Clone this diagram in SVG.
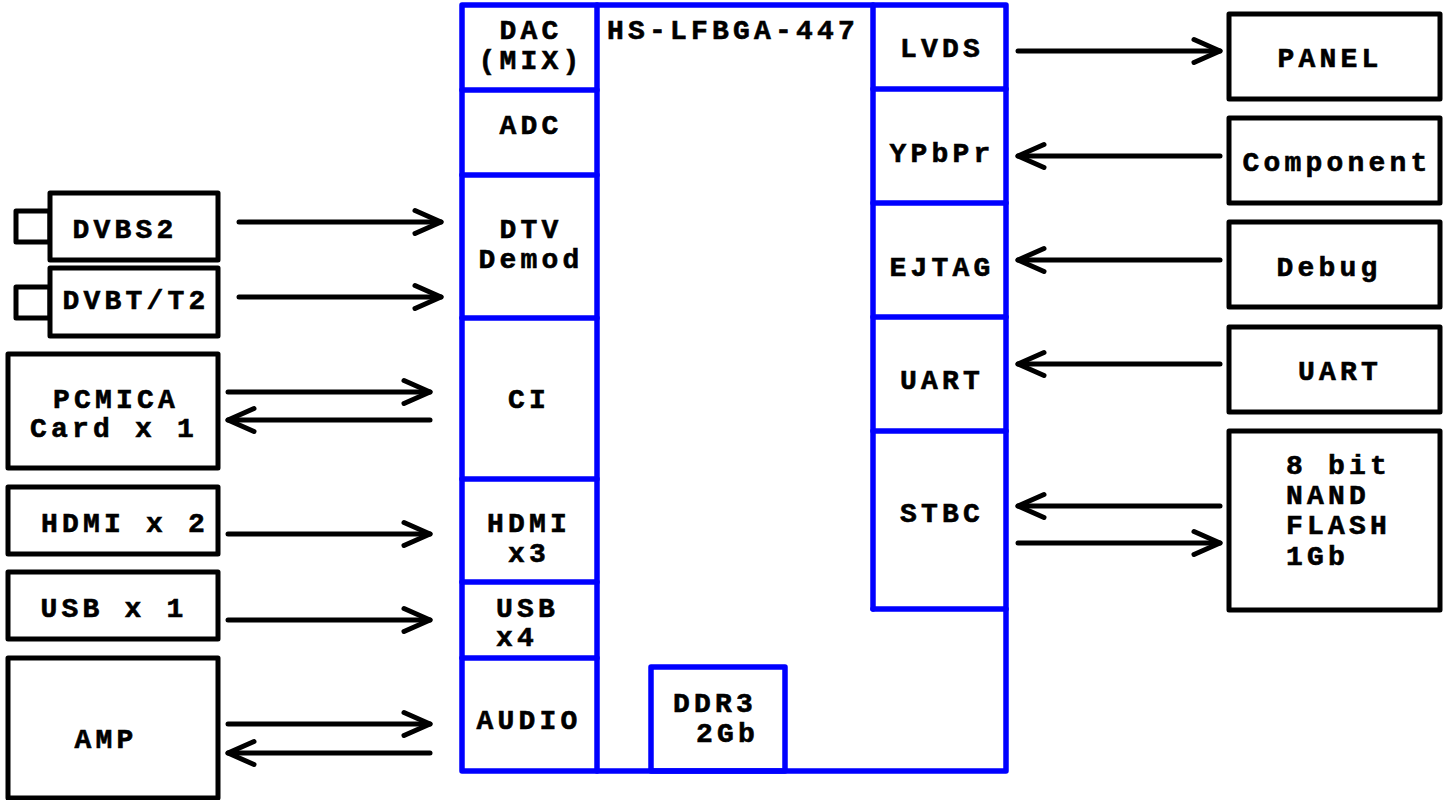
<svg xmlns="http://www.w3.org/2000/svg" width="1452" height="800" viewBox="0 0 1452 800">
<style>
  .box{fill:#fff;stroke:#000;stroke-width:5;stroke-linejoin:round}
  .chip{fill:none;stroke:#0000ff;stroke-width:5.5;stroke-linecap:round;stroke-linejoin:round}
  .t{font-family:"Liberation Mono","Courier New",monospace;font-weight:bold;font-size:28px;letter-spacing:4.2px;fill:#000;stroke:#000;stroke-width:0.6px}
  .m{text-anchor:middle}
  .conn line{stroke:#000;stroke-width:5;stroke-linecap:round}
</style>
<defs>
  <marker id="arr" viewBox="-30 -15 34 30" refX="0" refY="0" markerWidth="34" markerHeight="30" orient="auto" markerUnits="userSpaceOnUse" overflow="visible">
    <path d="M-26,-11.5 L0,0 L-26,11.5" fill="none" stroke="#000" stroke-width="5" stroke-linecap="round" stroke-linejoin="round"/>
  </marker>
</defs>
<rect width="1452" height="800" fill="#fff"/>

<g id="chip">
  <rect class="chip" x="462" y="5" width="544" height="766"/>
  <line class="chip" x1="597" y1="5" x2="597" y2="771"/>
  <line class="chip" x1="873" y1="5" x2="873" y2="609"/>
  <line class="chip" x1="873" y1="609" x2="1006" y2="609"/>
  <line class="chip" x1="462" y1="90" x2="597" y2="90"/>
  <line class="chip" x1="462" y1="175" x2="597" y2="175"/>
  <line class="chip" x1="462" y1="318" x2="597" y2="318"/>
  <line class="chip" x1="462" y1="479" x2="597" y2="479"/>
  <line class="chip" x1="462" y1="582" x2="597" y2="582"/>
  <line class="chip" x1="462" y1="658" x2="597" y2="658"/>
  <line class="chip" x1="873" y1="89" x2="1006" y2="89"/>
  <line class="chip" x1="873" y1="203" x2="1006" y2="203"/>
  <line class="chip" x1="873" y1="317" x2="1006" y2="317"/>
  <line class="chip" x1="873" y1="431" x2="1006" y2="431"/>
  <text class="t" x="607" y="39" letter-spacing="2.6">HS-LFBGA-447</text>
  <text class="t m" x="531" y="39">DAC</text>
  <text class="t m" x="531" y="69">(MIX)</text>
  <text class="t m" x="531" y="134">ADC</text>
  <text class="t m" x="531" y="238">DTV</text>
  <text class="t m" x="531" y="268">Demod</text>
  <text class="t m" x="529" y="408">CI</text>
  <text class="t m" x="529" y="532">HDMI</text>
  <text class="t m" x="529" y="562">x3</text>
  <text class="t" x="496" y="617">USB</text>
  <text class="t" x="496" y="646">x4</text>
  <text class="t m" x="529" y="729">AUDIO</text>
  <text class="t m" x="942" y="57">LVDS</text>
  <text class="t m" x="942" y="162">YPbPr</text>
  <text class="t m" x="942" y="276">EJTAG</text>
  <text class="t m" x="942" y="389">UART</text>
  <text class="t m" x="942" y="522">STBC</text>
</g>
<g id="ddr3">
  <rect class="chip" x="651" y="667" width="134" height="104"/>
  <text class="t" x="673" y="712">DDR3</text>
  <text class="t" x="696" y="742">2Gb</text>
</g>

<g id="dvbs2">
  <rect class="box" x="16" y="211" width="34" height="31"/>
  <rect class="box" x="50" y="193" width="168" height="67"/>
  <text class="t m" x="125" y="238">DVBS2</text>
</g>
<g id="dvbt">
  <rect class="box" x="16" y="287" width="34" height="31"/>
  <rect class="box" x="50" y="268" width="168" height="68"/>
  <text class="t m" x="136" y="309">DVBT/T2</text>
</g>
<g id="pcmcia">
  <rect class="box" x="8" y="354" width="210" height="114"/>
  <text class="t m" x="116" y="408">PCMICA</text>
  <text class="t m" x="114" y="437">Card x 1</text>
</g>
<g id="hdmi">
  <rect class="box" x="8" y="487" width="210" height="67"/>
  <text class="t m" x="125" y="532">HDMI x 2</text>
</g>
<g id="usb">
  <rect class="box" x="8" y="572" width="210" height="67"/>
  <text class="t m" x="114" y="617">USB x 1</text>
</g>
<g id="amp">
  <rect class="box" x="8" y="658" width="210" height="140"/>
  <text class="t m" x="106" y="748">AMP</text>
</g>

<g id="panel">
  <rect class="box" x="1229" y="14" width="211" height="85"/>
  <text class="t m" x="1330" y="67">PANEL</text>
</g>
<g id="component">
  <rect class="box" x="1229" y="118" width="211" height="85"/>
  <text class="t m" x="1337" y="171">Component</text>
</g>
<g id="debug">
  <rect class="box" x="1229" y="222" width="211" height="85"/>
  <text class="t m" x="1329" y="276">Debug</text>
</g>
<g id="uart">
  <rect class="box" x="1229" y="327" width="211" height="85"/>
  <text class="t m" x="1340" y="380">UART</text>
</g>
<g id="nand">
  <rect class="box" x="1229" y="431" width="211" height="179"/>
  <text class="t" x="1286" y="474">8 bit</text>
  <text class="t" x="1286" y="504">NAND</text>
  <text class="t" x="1286" y="534">FLASH</text>
  <text class="t" x="1286" y="565">1Gb</text>
</g>

<g id="connectors" class="conn">
  <line x1="239" y1="222" x2="441" y2="222" marker-end="url(#arr)"/>
  <line x1="239" y1="297" x2="441" y2="297" marker-end="url(#arr)"/>
  <line x1="228" y1="392" x2="430" y2="392" marker-end="url(#arr)"/>
  <line x1="430" y1="420" x2="228" y2="420" marker-end="url(#arr)"/>
  <line x1="228" y1="534" x2="430" y2="534" marker-end="url(#arr)"/>
  <line x1="228" y1="620" x2="430" y2="620" marker-end="url(#arr)"/>
  <line x1="228" y1="724" x2="430" y2="724" marker-end="url(#arr)"/>
  <line x1="430" y1="753" x2="228" y2="753" marker-end="url(#arr)"/>
  <line x1="1018" y1="51" x2="1220" y2="51" marker-end="url(#arr)"/>
  <line x1="1220" y1="156" x2="1018" y2="156" marker-end="url(#arr)"/>
  <line x1="1220" y1="260" x2="1018" y2="260" marker-end="url(#arr)"/>
  <line x1="1220" y1="364" x2="1018" y2="364" marker-end="url(#arr)"/>
  <line x1="1220" y1="506" x2="1018" y2="506" marker-end="url(#arr)"/>
  <line x1="1018" y1="543" x2="1220" y2="543" marker-end="url(#arr)"/>
</g>
</svg>
